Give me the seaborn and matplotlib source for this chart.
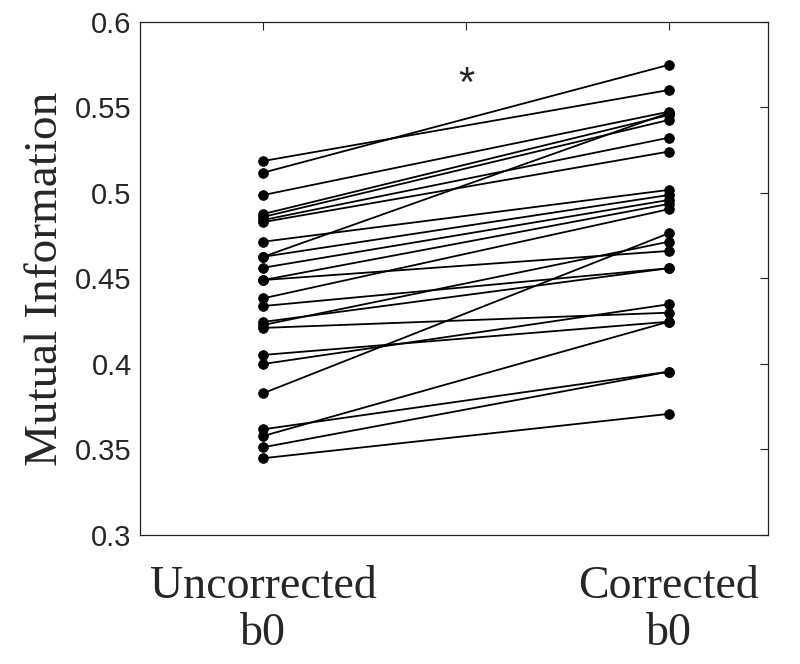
import numpy as np
import pandas as pd
import matplotlib
matplotlib.use("Agg")
import matplotlib.pyplot as plt
import seaborn as sns

conditions = ["Uncorrected\nb0", "Corrected\nb0"]
uncorrected = [0.5187, 0.5119, 0.4988, 0.4877, 0.4860, 0.4842, 0.4830, 0.4715,
               0.4627, 0.4627, 0.4563, 0.4491, 0.4491, 0.4384, 0.4339, 0.4246,
               0.4228, 0.4211, 0.4053, 0.4000, 0.3829, 0.3618, 0.3579, 0.3513,
               0.3449]
corrected = [0.5602, 0.5749, 0.5475, 0.5456, 0.5427, 0.5323, 0.5242, 0.5018,
             0.5468, 0.4988, 0.4959, 0.4936, 0.4661, 0.4905, 0.4560, 0.4560,
             0.4715, 0.4300, 0.4247, 0.4349, 0.4764, 0.3955, 0.4247, 0.3955,
             0.3708]
y_ticks = [0.3, 0.35, 0.4, 0.45, 0.5, 0.55, 0.6]
y_tick_labels = ["0.3", "0.35", "0.4", "0.45", "0.5", "0.55", "0.6"]
annotation = "*"

n = len(uncorrected)
df = pd.DataFrame({
    "subject": list(range(n)) * 2,
    "x": [1.0] * n + [2.0] * n,
    "mi": uncorrected + corrected,
})

sns.set_style("white")
fig = plt.figure(figsize=(8, 6.64), dpi=100)
ax = fig.add_axes([0.175, 0.1943, 0.96 - 0.175, 0.9669 - 0.1943])

sns.lineplot(data=df, x="x", y="mi", units="subject", estimator=None,
             color="black", linewidth=1.3, ax=ax, legend=False)
sns.scatterplot(data=df, x="x", y="mi", color="black", s=50, edgecolor="black",
                linewidth=0.5, ax=ax, legend=False, zorder=3)

ax.set_xlim(0.696, 2.245)
ax.set_ylim(0.3, 0.6)
ax.set_xticks([1, 1.5, 2])
ax.set_xticklabels([conditions[0], "", conditions[1]],
                   fontfamily="Liberation Serif", fontsize=33, linespacing=1.15)
ax.set_yticks(y_ticks)
ax.set_yticklabels(y_tick_labels, fontfamily="Liberation Sans", fontsize=21)
ax.tick_params(axis="both", direction="in", length=6, width=0.8,
               top=True, right=True, color="#222222")
ax.tick_params(axis="x", pad=22)
ax.tick_params(axis="y", pad=6)
for sp in ax.spines.values():
    sp.set_visible(True)
    sp.set_color("#222222")
    sp.set_linewidth(0.9)
ax.set_xlabel("")
ax.set_ylabel("Mutual Information", fontfamily="Liberation Serif", fontsize=34,
              labelpad=6)
ax.text(1.5, 0.563, annotation, ha="center", va="center", fontsize=30,
        fontfamily="Liberation Sans")
ax.grid(False)

fig.savefig("out.png", dpi=100)
